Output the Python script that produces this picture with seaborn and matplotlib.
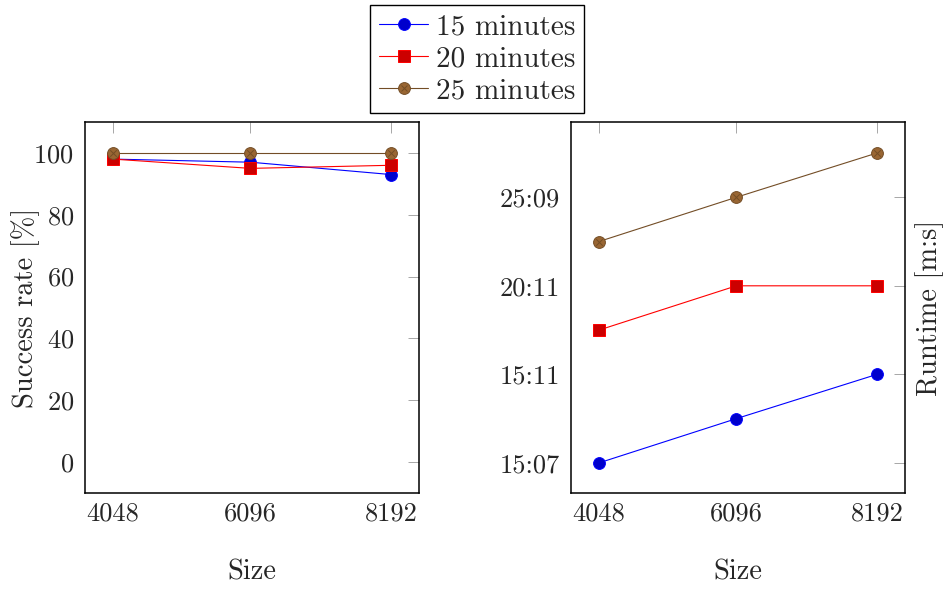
import matplotlib
matplotlib.use("Agg")
import matplotlib.pyplot as plt
from matplotlib.lines import Line2D
from matplotlib.legend_handler import HandlerTuple
import pandas as pd
import seaborn as sns

# data
sizes = [4048, 6096, 8192]
series = ["15 minutes", "20 minutes", "25 minutes"]
success_15 = [98, 97, 93]
success_20 = [98, 95, 96]
success_25 = [100, 100, 100]
# runtime is plotted on an ordinal scale, labelled with m:s ticks
runtime_15 = [0, 1, 2]
runtime_20 = [3, 4, 4]
runtime_25 = [5, 6, 7]
runtime_ticks = [0, 2, 4, 6]
runtime_labels = ["15:07", "15:11", "20:11", "25:09"]

rows = []
for name, succ, rt in zip(series, [success_15, success_20, success_25],
                          [runtime_15, runtime_20, runtime_25]):
    for s, a, b in zip(sizes, succ, rt):
        rows.append({"Size": s, "series": name, "success": a, "runtime": b})
df = pd.DataFrame(rows)

sns.set_style("white")
plt.rcParams["font.family"] = ["cmr10", "DejaVu Serif"]
plt.rcParams["axes.formatter.use_mathtext"] = True
plt.rcParams["mathtext.fontset"] = "cm"

line_col = {"15 minutes": "#0000ff", "20 minutes": "#ff0000", "25 minutes": "#734d26"}
face_col = {"15 minutes": "#0000cc", "20 minutes": "#cc0000", "25 minutes": "#996633"}
marks = {"15 minutes": "o", "20 minutes": "s", "25 minutes": "o"}
FS = 19      # tick labels
LFS = 20.5   # axis labels
GFS = 21     # legend

fig = plt.figure(figsize=(9.46, 5.9), dpi=100)
ax1 = fig.add_axes([85 / 946, 97 / 590, 334 / 946, 371 / 590])
ax2 = fig.add_axes([571 / 946, 97 / 590, 334 / 946, 371 / 590])

for ax, col in [(ax1, "success"), (ax2, "runtime")]:
    for name in series:
        sub = df[df["series"] == name]
        sns.lineplot(data=sub, x="Size", y=col, ax=ax, color=line_col[name],
                     marker=marks[name], markersize=8.5, markerfacecolor=face_col[name],
                     markeredgecolor=line_col[name], markeredgewidth=0.7,
                     linewidth=0.8, errorbar=None, legend=False)
        if name == "25 minutes":
            sns.scatterplot(data=sub, x="Size", y=col, ax=ax, marker="x", s=22,
                            color=line_col[name], linewidth=0.7, zorder=5, legend=False)
    ax.set_xlim(3631, 8609)
    ax.set_xticks(sizes)
    ax.set_xticklabels([str(s) for s in sizes])
    ax.set_xlabel("Size", fontsize=LFS)
    ax.xaxis.set_label_coords(0.5, -0.178)
    ax.tick_params(direction="in", length=8, width=0.6, color="0.6",
                   top=True, right=True, labelsize=FS, pad=8)
    ax.tick_params(axis="x", pad=6)
    for sp in ax.spines.values():
        sp.set_linewidth(1.1)
        sp.set_color("black")

ax1.set_ylim(-10, 110)
ax1.set_yticks([0, 20, 40, 60, 80, 100])
ax1.set_ylabel("Success rate [%]", fontsize=LFS)
ax1.yaxis.set_label_coords(-0.135, 0.5)

ax2.set_ylim(-0.68, 7.7)
ax2.set_yticks(runtime_ticks)
ax2.set_yticklabels(runtime_labels)
ax2.yaxis.set_label_position("right")
ax2.set_ylabel("Runtime [m:s]", fontsize=LFS)
ax2.yaxis.set_label_coords(1.030, 0.5)

handles = []
for name in series:
    ln = Line2D([], [], color=line_col[name], marker=marks[name], markersize=8.5,
                markerfacecolor=face_col[name], markeredgecolor=line_col[name],
                markeredgewidth=0.7, linewidth=0.8)
    if name == "25 minutes":
        xm = Line2D([], [], color=line_col[name], marker="x", markersize=5,
                    markeredgewidth=0.7, linestyle="none")
        handles.append((ln, xm))
    else:
        handles.append(ln)

leg = fig.legend(handles, series, loc="upper center", bbox_to_anchor=(477 / 946, 1 - 5 / 590),
                 fontsize=GFS, frameon=True, fancybox=False, framealpha=1, edgecolor="black",
                 handlelength=1.7, handletextpad=0.25, borderpad=0.3, labelspacing=0.2,
                 borderaxespad=0, handler_map={tuple: HandlerTuple(ndivide=1, pad=0)})
leg.get_frame().set_linewidth(1.0)

fig.savefig("out.png", dpi=100)
